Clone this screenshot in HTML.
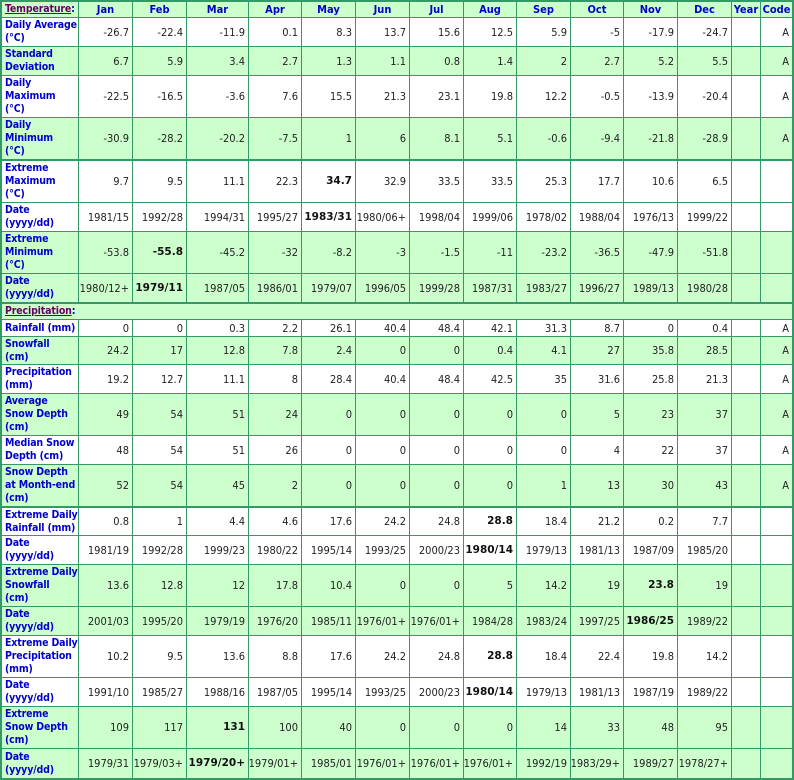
<!DOCTYPE html>
<html>
<head>
<meta charset="utf-8">
<style>
html,body{margin:0;padding:0;background:#fff;}
#t{position:absolute;left:0;top:0;width:794px;height:780px;box-sizing:border-box;border:2px solid #339966;}
.r{display:grid;grid-template-columns:77px 54px 54px 62px 53px 54px 54px 54px 53px 54px 53px 54px 54px 29px 31px;box-sizing:border-box;border-bottom:1px solid #339966;background:#fff;}
.r.g{background:#ccffcc;}
.r.k{border-bottom:2px solid #339966;}
.r.last{border-bottom:none;}
.r>div{box-sizing:border-box;border-right:1px solid #339966;display:flex;align-items:center;justify-content:flex-end;padding:0 3px 0 2px;white-space:nowrap;font:11px/13px "DejaVu Sans Condensed","Liberation Sans",sans-serif;color:#222;overflow:visible;}
.r>div:last-child{border-right:none;}
.r>div.l{justify-content:flex-start;padding:0 0 0 3px;font:bold 10.5px/13px "DejaVu Sans Condensed","Liberation Sans",sans-serif;letter-spacing:-0.15px;color:#0000cc;}
.r>div.h{justify-content:center;padding:0;font:bold 11px/13px "DejaVu Sans Condensed","Liberation Sans",sans-serif;color:#0000cc;}
.r>div b{font:bold 10.5px/13px "DejaVu Sans","Liberation Sans",sans-serif;color:#111;display:block;line-height:13px;}
.r>div.s{grid-column:1 / -1;justify-content:flex-start;padding-left:3px;font:bold 10.5px/13px "DejaVu Sans Condensed","Liberation Sans",sans-serif;letter-spacing:-0.15px;color:#0000cc;}
u{color:#660066;}
</style>
</head>
<body>
<div id="t">
<div class="r g" style="height:16px"><div class="l"><span><u>Temperature</u>:</span></div><div class="h">Jan</div><div class="h">Feb</div><div class="h">Mar</div><div class="h">Apr</div><div class="h">May</div><div class="h">Jun</div><div class="h">Jul</div><div class="h">Aug</div><div class="h">Sep</div><div class="h">Oct</div><div class="h">Nov</div><div class="h">Dec</div><div class="h">Year</div><div class="h">Code</div></div>

<div class="r" style="height:29px"><div class="l"><div>Daily Average<br>(°C)</div></div><div>-26.7</div><div>-22.4</div><div>-11.9</div><div>0.1</div><div>8.3</div><div>13.7</div><div>15.6</div><div>12.5</div><div>5.9</div><div>-5</div><div>-17.9</div><div>-24.7</div><div></div><div>A</div></div>

<div class="r g" style="height:29px"><div class="l"><div>Standard<br>Deviation</div></div><div>6.7</div><div>5.9</div><div>3.4</div><div>2.7</div><div>1.3</div><div>1.1</div><div>0.8</div><div>1.4</div><div>2</div><div>2.7</div><div>5.2</div><div>5.5</div><div></div><div>A</div></div>

<div class="r" style="height:42px"><div class="l"><div>Daily<br>Maximum<br>(°C)</div></div><div>-22.5</div><div>-16.5</div><div>-3.6</div><div>7.6</div><div>15.5</div><div>21.3</div><div>23.1</div><div>19.8</div><div>12.2</div><div>-0.5</div><div>-13.9</div><div>-20.4</div><div></div><div>A</div></div>

<div class="r g k" style="height:43px"><div class="l"><div>Daily<br>Minimum<br>(°C)</div></div><div>-30.9</div><div>-28.2</div><div>-20.2</div><div>-7.5</div><div>1</div><div>6</div><div>8.1</div><div>5.1</div><div>-0.6</div><div>-9.4</div><div>-21.8</div><div>-28.9</div><div></div><div>A</div></div>

<div class="r" style="height:42px"><div class="l"><div>Extreme<br>Maximum<br>(°C)</div></div><div>9.7</div><div>9.5</div><div>11.1</div><div>22.3</div><div><b>34.7</b></div><div>32.9</div><div>33.5</div><div>33.5</div><div>25.3</div><div>17.7</div><div>10.6</div><div>6.5</div><div></div><div></div></div>

<div class="r" style="height:29px"><div class="l"><div>Date<br>(yyyy/dd)</div></div><div>1981/15</div><div>1992/28</div><div>1994/31</div><div>1995/27</div><div><b>1983/31</b></div><div>1980/06+</div><div>1998/04</div><div>1999/06</div><div>1978/02</div><div>1988/04</div><div>1976/13</div><div>1999/22</div><div></div><div></div></div>

<div class="r g" style="height:42px"><div class="l"><div>Extreme<br>Minimum<br>(°C)</div></div><div>-53.8</div><div><b>-55.8</b></div><div>-45.2</div><div>-32</div><div>-8.2</div><div>-3</div><div>-1.5</div><div>-11</div><div>-23.2</div><div>-36.5</div><div>-47.9</div><div>-51.8</div><div></div><div></div></div>

<div class="r g k" style="height:30px"><div class="l"><div>Date<br>(yyyy/dd)</div></div><div>1980/12+</div><div><b>1979/11</b></div><div>1987/05</div><div>1986/01</div><div>1979/07</div><div>1996/05</div><div>1999/28</div><div>1987/31</div><div>1983/27</div><div>1996/27</div><div>1989/13</div><div>1980/28</div><div></div><div></div></div>

<div class="r g" style="height:16px;display:flex"><div class="s" style="width:100%;border-right:none"><span><u>Precipitation</u>:</span></div></div>

<div class="r" style="height:17px"><div class="l"><div>Rainfall (mm)</div></div><div>0</div><div>0</div><div>0.3</div><div>2.2</div><div>26.1</div><div>40.4</div><div>48.4</div><div>42.1</div><div>31.3</div><div>8.7</div><div>0</div><div>0.4</div><div></div><div>A</div></div>

<div class="r g" style="height:28px"><div class="l"><div>Snowfall<br>(cm)</div></div><div>24.2</div><div>17</div><div>12.8</div><div>7.8</div><div>2.4</div><div>0</div><div>0</div><div>0.4</div><div>4.1</div><div>27</div><div>35.8</div><div>28.5</div><div></div><div>A</div></div>

<div class="r" style="height:29px"><div class="l"><div>Precipitation<br>(mm)</div></div><div>19.2</div><div>12.7</div><div>11.1</div><div>8</div><div>28.4</div><div>40.4</div><div>48.4</div><div>42.5</div><div>35</div><div>31.6</div><div>25.8</div><div>21.3</div><div></div><div>A</div></div>

<div class="r g" style="height:42px"><div class="l"><div>Average<br>Snow Depth<br>(cm)</div></div><div>49</div><div>54</div><div>51</div><div>24</div><div>0</div><div>0</div><div>0</div><div>0</div><div>0</div><div>5</div><div>23</div><div>37</div><div></div><div>A</div></div>

<div class="r" style="height:29px"><div class="l"><div>Median Snow<br>Depth (cm)</div></div><div>48</div><div>54</div><div>51</div><div>26</div><div>0</div><div>0</div><div>0</div><div>0</div><div>0</div><div>4</div><div>22</div><div>37</div><div></div><div>A</div></div>

<div class="r g k" style="height:43px"><div class="l"><div>Snow Depth<br>at Month-end<br>(cm)</div></div><div>52</div><div>54</div><div>45</div><div>2</div><div>0</div><div>0</div><div>0</div><div>0</div><div>1</div><div>13</div><div>30</div><div>43</div><div></div><div>A</div></div>

<div class="r" style="height:28px"><div class="l"><div>Extreme Daily<br>Rainfall (mm)</div></div><div>0.8</div><div>1</div><div>4.4</div><div>4.6</div><div>17.6</div><div>24.2</div><div>24.8</div><div><b>28.8</b></div><div>18.4</div><div>21.2</div><div>0.2</div><div>7.7</div><div></div><div></div></div>

<div class="r" style="height:29px"><div class="l"><div>Date<br>(yyyy/dd)</div></div><div>1981/19</div><div>1992/28</div><div>1999/23</div><div>1980/22</div><div>1995/14</div><div>1993/25</div><div>2000/23</div><div><b>1980/14</b></div><div>1979/13</div><div>1981/13</div><div>1987/09</div><div>1985/20</div><div></div><div></div></div>

<div class="r g" style="height:42px"><div class="l"><div>Extreme Daily<br>Snowfall<br>(cm)</div></div><div>13.6</div><div>12.8</div><div>12</div><div>17.8</div><div>10.4</div><div>0</div><div>0</div><div>5</div><div>14.2</div><div>19</div><div><b>23.8</b></div><div>19</div><div></div><div></div></div>

<div class="r g" style="height:29px"><div class="l"><div>Date<br>(yyyy/dd)</div></div><div>2001/03</div><div>1995/20</div><div>1979/19</div><div>1976/20</div><div>1985/11</div><div>1976/01+</div><div>1976/01+</div><div>1984/28</div><div>1983/24</div><div>1997/25</div><div><b>1986/25</b></div><div>1989/22</div><div></div><div></div></div>

<div class="r" style="height:42px"><div class="l"><div>Extreme Daily<br>Precipitation<br>(mm)</div></div><div>10.2</div><div>9.5</div><div>13.6</div><div>8.8</div><div>17.6</div><div>24.2</div><div>24.8</div><div><b>28.8</b></div><div>18.4</div><div>22.4</div><div>19.8</div><div>14.2</div><div></div><div></div></div>

<div class="r" style="height:29px"><div class="l"><div>Date<br>(yyyy/dd)</div></div><div>1991/10</div><div>1985/27</div><div>1988/16</div><div>1987/05</div><div>1995/14</div><div>1993/25</div><div>2000/23</div><div><b>1980/14</b></div><div>1979/13</div><div>1981/13</div><div>1987/19</div><div>1989/22</div><div></div><div></div></div>

<div class="r g" style="height:42px"><div class="l"><div>Extreme<br>Snow Depth<br>(cm)</div></div><div>109</div><div>117</div><div><b>131</b></div><div>100</div><div>40</div><div>0</div><div>0</div><div>0</div><div>14</div><div>33</div><div>48</div><div>95</div><div></div><div></div></div>

<div class="r g last" style="height:29px"><div class="l"><div>Date<br>(yyyy/dd)</div></div><div>1979/31</div><div>1979/03+</div><div><b>1979/20+</b></div><div>1979/01+</div><div>1985/01</div><div>1976/01+</div><div>1976/01+</div><div>1976/01+</div><div>1992/19</div><div>1983/29+</div><div>1989/27</div><div>1978/27+</div><div></div><div></div></div>
</div>
</body>
</html>
